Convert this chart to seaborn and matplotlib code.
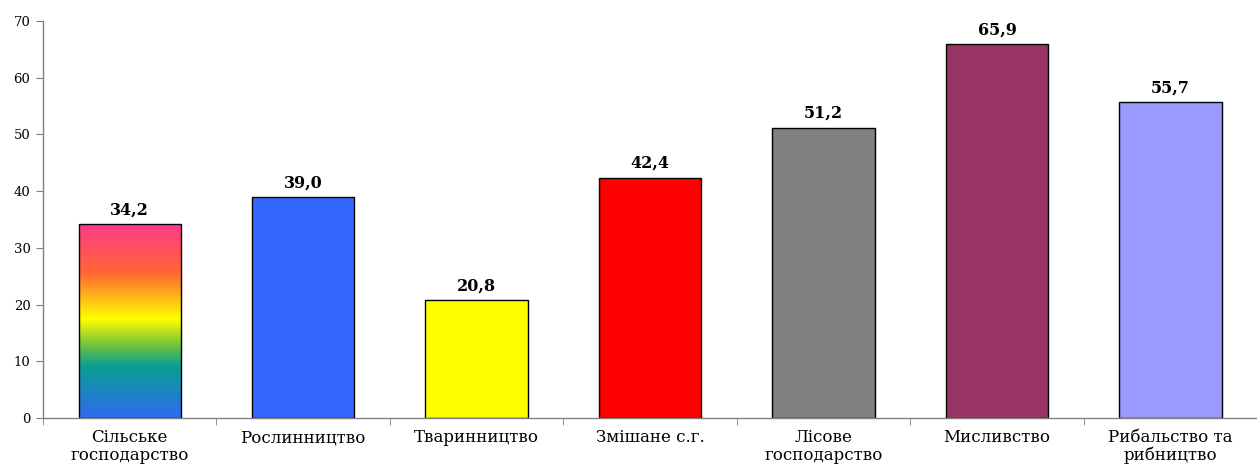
import numpy as np
import pandas as pd
import matplotlib
matplotlib.use("Agg")
import matplotlib.pyplot as plt
from matplotlib.colors import LinearSegmentedColormap
from matplotlib.ticker import FixedLocator
import seaborn as sns

# Дані
categories = ["Сільське\nгосподарство", "Рослинництво", "Тваринництво",
              "Змішане с.г.", "Лісове\nгосподарство", "Мисливство",
              "Рибальство та\nрибництво"]
values = [34.2, 39.0, 20.8, 42.4, 51.2, 65.9, 55.7]
bar_colors = ["#FFFFFF", "#3366FF", "#FFFF00", "#FF0000", "#808080", "#993366", "#9999FF"]

df = pd.DataFrame({"cat": categories, "val": values})

sns.set_style("white")
plt.rcParams["font.family"] = ["DejaVu Serif", "Liberation Serif"]
plt.rcParams["text.color"] = "black"
plt.rcParams["xtick.color"] = "black"
plt.rcParams["ytick.color"] = "black"

fig = plt.figure(figsize=(12.57, 4.66), dpi=100)
ax = fig.add_axes([0.0342, 0.103, 0.966, 0.852])

sns.barplot(data=df, x="cat", y="val", hue="cat", palette=bar_colors,
            legend=False, width=0.59, edgecolor="#000000", linewidth=1.0,
            saturation=1, ax=ax)

# градієнт для першого стовпчика
grad = LinearSegmentedColormap.from_list("veselka", [
    (0.0, "#2F6AF0"), (0.27, "#0AA090"), (0.37, "#6CC040"),
    (0.51, "#FFFF00"), (0.75, "#FF6633"), (1.0, "#FF3A8A")])
p = ax.patches[0]
x0, y0 = p.get_x(), p.get_y()
w, h = p.get_width(), p.get_height()
g = np.linspace(0, 1, 256).reshape(-1, 1)
im = ax.imshow(g, cmap=grad, origin="lower", aspect="auto",
               extent=[x0, x0 + w, y0, y0 + h], zorder=p.get_zorder() - 0.1)
im.set_clip_path(p)
p.set_facecolor("none")

for i, v in enumerate(values):
    ax.annotate(f"{v:.1f}".replace(".", ","), (i, v), xytext=(0, 4),
                textcoords="offset points", ha="center", va="bottom",
                fontsize=11.5, fontweight="bold", color="black")

ax.set_xlim(-0.5, 6.5)
ax.set_ylim(0, 70)
ax.set_yticks(range(0, 71, 10))
ax.set_xlabel("")
ax.set_ylabel("")

for s in ["top", "right"]:
    ax.spines[s].set_visible(False)
for s in ["left", "bottom"]:
    ax.spines[s].set_color("#808080")
    ax.spines[s].set_linewidth(1.0)

ax.tick_params(axis="y", direction="out", length=5, color="#808080",
               labelcolor="black", labelsize=9.5, pad=4, left=True)
ax.tick_params(axis="x", which="major", length=0, labelcolor="black",
               labelsize=12, pad=8)
ax.xaxis.set_minor_locator(FixedLocator(np.arange(-0.5, 7, 1)))
ax.tick_params(axis="x", which="minor", direction="out", length=5,
               color="#808080", bottom=True)
for t in ax.get_xticklabels():
    t.set_linespacing(1.05)

fig.savefig("out.png", dpi=100)
